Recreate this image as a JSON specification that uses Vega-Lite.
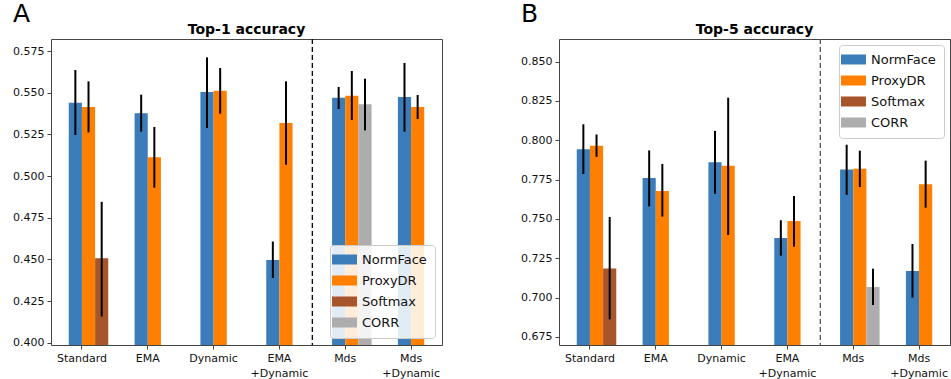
{
  "$schema": "https://vega.github.io/schema/vega-lite/v6.json",
  "background": "white",
  "padding": {"left": 12, "top": 2, "right": 4, "bottom": 2},
  "config": {
    "font": "DejaVu Sans",
    "view": {"stroke": "#444444", "strokeWidth": 1},
    "axis": {
      "domain": false,
      "grid": false,
      "ticks": true,
      "tickColor": "#444444",
      "tickSize": 4,
      "labelFontSize": 11,
      "labelColor": "#111111",
      "labelPadding": 3,
      "title": null
    },
    "title": {"color": "#000000"},
    "concat": {"spacing": 77}
  },
  "datasets": {
    "top1": [
      {"method": "Standard", "model": "NormFace", "acc": 0.544, "lo": 0.5246, "hi": 0.5636},
      {"method": "Standard", "model": "ProxyDR", "acc": 0.5414, "lo": 0.5262, "hi": 0.5568},
      {"method": "Standard", "model": "Softmax", "acc": 0.4506, "lo": 0.4157, "hi": 0.4845},
      {"method": "EMA", "model": "NormFace", "acc": 0.5376, "lo": 0.5266, "hi": 0.5488},
      {"method": "EMA", "model": "ProxyDR", "acc": 0.5112, "lo": 0.493, "hi": 0.5294},
      {"method": "Dynamic", "model": "NormFace", "acc": 0.5504, "lo": 0.5288, "hi": 0.5712},
      {"method": "Dynamic", "model": "ProxyDR", "acc": 0.5512, "lo": 0.5374, "hi": 0.5648},
      {"method": "EMA +Dynamic", "model": "NormFace", "acc": 0.4496, "lo": 0.4388, "hi": 0.4607},
      {"method": "EMA +Dynamic", "model": "ProxyDR", "acc": 0.5318, "lo": 0.5068, "hi": 0.5568},
      {"method": "Mds", "model": "NormFace", "acc": 0.547, "lo": 0.5402, "hi": 0.5534},
      {"method": "Mds", "model": "ProxyDR", "acc": 0.5482, "lo": 0.5336, "hi": 0.563},
      {"method": "Mds", "model": "CORR", "acc": 0.543, "lo": 0.5274, "hi": 0.5584},
      {"method": "Mds +Dynamic", "model": "NormFace", "acc": 0.5474, "lo": 0.5266, "hi": 0.5678},
      {"method": "Mds +Dynamic", "model": "ProxyDR", "acc": 0.5414, "lo": 0.5342, "hi": 0.5486}
    ],
    "top5": [
      {"method": "Standard", "model": "NormFace", "acc": 0.7943, "lo": 0.7786, "hi": 0.8102},
      {"method": "Standard", "model": "ProxyDR", "acc": 0.7965, "lo": 0.7895, "hi": 0.8037},
      {"method": "Standard", "model": "Softmax", "acc": 0.7186, "lo": 0.6862, "hi": 0.7513},
      {"method": "EMA", "model": "NormFace", "acc": 0.776, "lo": 0.758, "hi": 0.7936},
      {"method": "EMA", "model": "ProxyDR", "acc": 0.7678, "lo": 0.7515, "hi": 0.785},
      {"method": "Dynamic", "model": "NormFace", "acc": 0.786, "lo": 0.766, "hi": 0.806},
      {"method": "Dynamic", "model": "ProxyDR", "acc": 0.7838, "lo": 0.7398, "hi": 0.8271},
      {"method": "EMA +Dynamic", "model": "NormFace", "acc": 0.7379, "lo": 0.7267, "hi": 0.7492},
      {"method": "EMA +Dynamic", "model": "ProxyDR", "acc": 0.7487, "lo": 0.7324, "hi": 0.7646},
      {"method": "Mds", "model": "NormFace", "acc": 0.7814, "lo": 0.7653, "hi": 0.7972},
      {"method": "Mds", "model": "ProxyDR", "acc": 0.782, "lo": 0.7703, "hi": 0.7934},
      {"method": "Mds", "model": "CORR", "acc": 0.7068, "lo": 0.6953, "hi": 0.7184},
      {"method": "Mds +Dynamic", "model": "NormFace", "acc": 0.7169, "lo": 0.7, "hi": 0.7341},
      {"method": "Mds +Dynamic", "model": "ProxyDR", "acc": 0.772, "lo": 0.7572, "hi": 0.7871}
    ],
    "split": [{"method": "Mds"}]
  },
  "resolve": {
    "scale": {"x": "independent", "y": "independent", "color": "independent", "xOffset": "independent"},
    "legend": {"color": "independent"}
  },
  "hconcat": [
    {
      "title": {"text": "A", "anchor": "start", "fontSize": 25, "fontWeight": "normal", "offset": -5, "dx": 1},
      "resolve": {"legend": {"color": "independent"}},
      "vconcat": [
        {
          "width": 391,
          "height": 306,
          "title": {"text": "Top-1 accuracy", "fontSize": 14, "fontWeight": "bold", "offset": 1.5},
          "layer": [
            {
              "data": {"name": "top1"},
              "transform": [{"calculate": "datum.model === 'NormFace' || datum.model === 'ProxyDR' ? datum.model : 'baseline'", "as": "slot"}],
              "mark": {"type": "bar", "clip": true},
              "encoding": {
                "x": {"field": "method", "type": "nominal", "sort": null,
                  "scale": {"domain": ["Standard", "EMA", "Dynamic", "EMA +Dynamic", "Mds", "Mds +Dynamic"], "paddingInner": 0.2, "paddingOuter": 0.07},
                  "axis": {"labelAngle": 0, "labelExpr": "split(datum.label, ' ')", "labelLineHeight": 15}},
                "xOffset": {"field": "slot", "type": "nominal", "scale": {"domain": ["gap", "NormFace", "ProxyDR", "baseline"]}},
                "y": {"field": "acc", "type": "quantitative",
                  "scale": {"domain": [0.3986, 0.5822], "zero": false, "nice": false},
                  "axis": {"values": [0.4, 0.425, 0.45, 0.475, 0.5, 0.525, 0.55, 0.575], "format": ".3f"}},
                "color": {"field": "model", "type": "nominal",
                  "scale": {"domain": ["NormFace", "ProxyDR", "Softmax", "CORR"], "range": ["#3a7dba", "#ff7f00", "#a6562a", "#adadad"]},
                  "legend": {"title": null, "orient": "bottom-right", "offset": 7, "fillColor": "rgba(255,255,255,0.85)", "strokeColor": "#cccccc", "cornerRadius": 3, "padding": 8, "labelFontSize": 13, "labelColor": "#111111", "symbolType": "M-2.5,-1H2.5V1H-2.5Z", "symbolSize": 100, "symbolStrokeWidth": 0, "symbolOpacity": 1, "rowPadding": 7, "labelOffset": 11}}
              }
            },
            {
              "data": {"name": "top1"},
              "transform": [{"calculate": "datum.model === 'NormFace' || datum.model === 'ProxyDR' ? datum.model : 'baseline'", "as": "slot"}],
              "mark": {"type": "rule", "color": "#000000", "strokeWidth": 2},
              "encoding": {
                "x": {"field": "method", "type": "nominal", "sort": null},
                "xOffset": {"field": "slot", "type": "nominal"},
                "y": {"field": "lo", "type": "quantitative"},
                "y2": {"field": "hi"}
              }
            },
            {
              "data": {"name": "split"},
              "mark": {"type": "rule", "color": "#000000", "strokeWidth": 1.3, "strokeDash": [5, 3]},
              "encoding": {
                "x": {"field": "method", "type": "nominal", "bandPosition": -0.125}
              }
            }
          ]
        }
      ]
    },
    {
      "title": {"text": "B", "anchor": "start", "fontSize": 25, "fontWeight": "normal", "offset": -5, "dx": 1},
      "resolve": {"legend": {"color": "independent"}},
      "vconcat": [
        {
          "width": 391,
          "height": 306,
          "title": {"text": "Top-5 accuracy", "fontSize": 14, "fontWeight": "bold", "offset": 1.5},
          "layer": [
            {
              "data": {"name": "top5"},
              "transform": [{"calculate": "datum.model === 'NormFace' || datum.model === 'ProxyDR' ? datum.model : 'baseline'", "as": "slot"}],
              "mark": {"type": "bar", "clip": true},
              "encoding": {
                "x": {"field": "method", "type": "nominal", "sort": null,
                  "scale": {"domain": ["Standard", "EMA", "Dynamic", "EMA +Dynamic", "Mds", "Mds +Dynamic"], "paddingInner": 0.2, "paddingOuter": 0.07},
                  "axis": {"labelAngle": 0, "labelExpr": "split(datum.label, ' ')", "labelLineHeight": 15}},
                "xOffset": {"field": "slot", "type": "nominal", "scale": {"domain": ["gap", "NormFace", "ProxyDR", "baseline"]}},
                "y": {"field": "acc", "type": "quantitative",
                  "scale": {"domain": [0.6699, 0.8644], "zero": false, "nice": false},
                  "axis": {"values": [0.675, 0.7, 0.725, 0.75, 0.775, 0.8, 0.825, 0.85], "format": ".3f"}},
                "color": {"field": "model", "type": "nominal",
                  "scale": {"domain": ["NormFace", "ProxyDR", "Softmax", "CORR"], "range": ["#3a7dba", "#ff7f00", "#a6562a", "#adadad"]},
                  "legend": {"title": null, "orient": "top-right", "offset": 6, "fillColor": "rgba(255,255,255,0.85)", "strokeColor": "#cccccc", "cornerRadius": 3, "padding": 8, "labelFontSize": 13, "labelColor": "#111111", "symbolType": "M-2.5,-1H2.5V1H-2.5Z", "symbolSize": 100, "symbolStrokeWidth": 0, "symbolOpacity": 1, "rowPadding": 7, "labelOffset": 11}}
              }
            },
            {
              "data": {"name": "top5"},
              "transform": [{"calculate": "datum.model === 'NormFace' || datum.model === 'ProxyDR' ? datum.model : 'baseline'", "as": "slot"}],
              "mark": {"type": "rule", "color": "#000000", "strokeWidth": 2},
              "encoding": {
                "x": {"field": "method", "type": "nominal", "sort": null},
                "xOffset": {"field": "slot", "type": "nominal"},
                "y": {"field": "lo", "type": "quantitative"},
                "y2": {"field": "hi"}
              }
            },
            {
              "data": {"name": "split"},
              "mark": {"type": "rule", "color": "#555555", "strokeWidth": 1.3, "strokeDash": [5, 3]},
              "encoding": {
                "x": {"field": "method", "type": "nominal", "bandPosition": -0.125}
              }
            }
          ]
        }
      ]
    }
  ]
}
